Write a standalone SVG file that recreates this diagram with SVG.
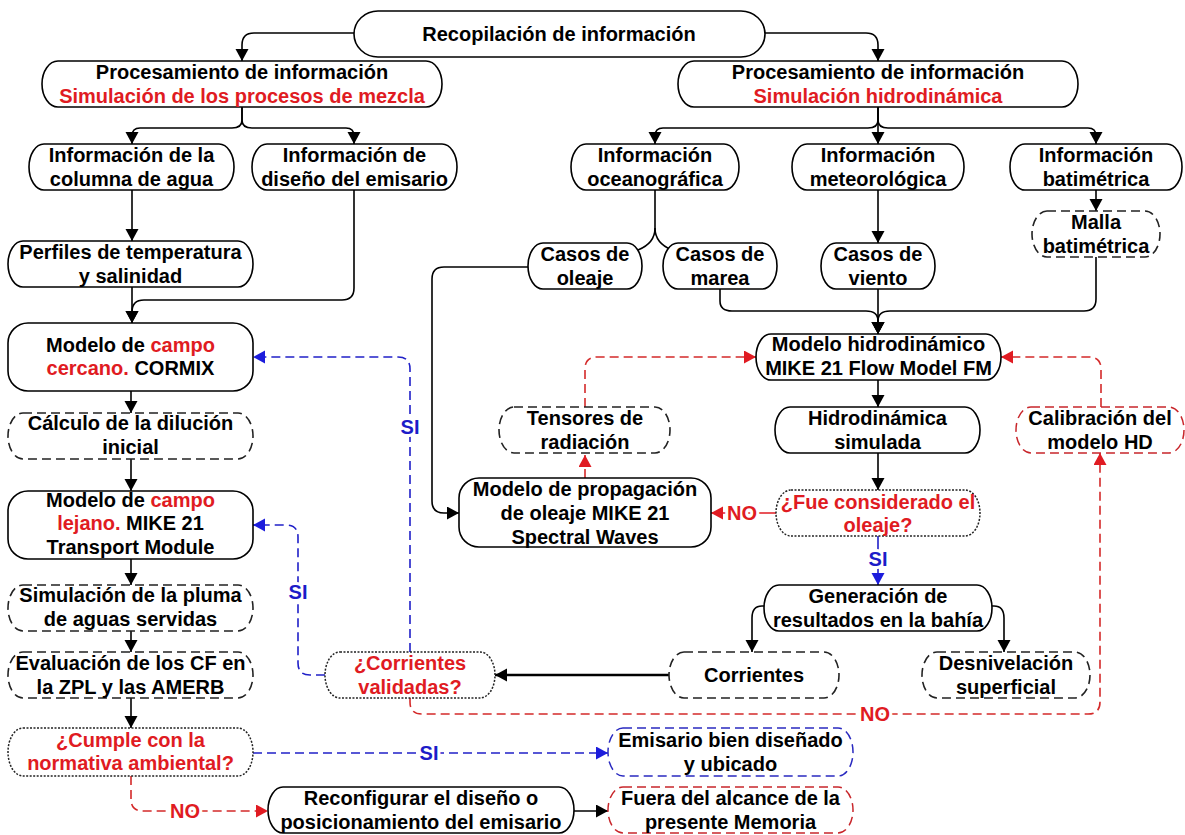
<svg xmlns="http://www.w3.org/2000/svg" width="1185" height="835" viewBox="0 0 1185 835">
<style>
.n{fill:#fff;stroke:#000;stroke-width:1.6}
.d{fill:#fff;stroke:#222;stroke-width:1.6;stroke-dasharray:9,5}
.o{fill:#fff;stroke:#222;stroke-width:1.5;stroke-dasharray:2,1.5}
.dr{fill:#fff;stroke:#c8262b;stroke-width:1.5;stroke-dasharray:9,5}
.db{fill:#fff;stroke:#2a2ac0;stroke-width:1.5;stroke-dasharray:9,5}
text{font-family:"Liberation Sans",Arial,sans-serif;font-weight:bold;font-size:20px;text-anchor:middle;fill:#000}
.r{fill:#e01b22}
.b{fill:#1c1cc8}
.lb{stroke:#fff;stroke-width:6;paint-order:stroke}
.c{fill:none;stroke:#000;stroke-width:1.6}
.cr{fill:none;stroke:#d42a2a;stroke-width:1.6;stroke-dasharray:9,5}
.cb{fill:none;stroke:#2020c8;stroke-width:1.6;stroke-dasharray:9,5}
</style>
<defs>
<marker id="ak" markerUnits="userSpaceOnUse" markerWidth="14" markerHeight="14" refX="12" refY="6.5" orient="auto"><path d="M0,0 L12,6.5 L0,13 Z" fill="#000"/></marker>
<marker id="ar" markerUnits="userSpaceOnUse" markerWidth="14" markerHeight="14" refX="12" refY="6.5" orient="auto"><path d="M0,0 L12,6.5 L0,13 Z" fill="#e01b22"/></marker>
<marker id="ab" markerUnits="userSpaceOnUse" markerWidth="14" markerHeight="14" refX="12" refY="6.5" orient="auto"><path d="M0,0 L12,6.5 L0,13 Z" fill="#1c1cdc"/></marker>
</defs>
<rect width="1185" height="835" fill="#fff"/>
<g id="connectors">
<path class="c" d="M354,33 H254 Q242,33 242,45 V61" marker-end="url(#ak)"/>
<path class="c" d="M765,33 H866 Q878,33 878,45 V61" marker-end="url(#ak)"/>
<path class="c" d="M242,107 V120 Q242,128 232,128 H140 Q132,128 132,136 V144" marker-end="url(#ak)"/>
<path class="c" d="M242,107 V120 Q242,128 252,128 H346 Q354,128 354,136 V144" marker-end="url(#ak)"/>
<path class="c" d="M132,190 V241" marker-end="url(#ak)"/>
<path class="c" d="M132,287 V323" marker-end="url(#ak)"/>
<path class="c" d="M354,190 V288 Q354,300 342,300 H144 Q132,300 132,312 V323" marker-end="url(#ak)"/>
<path class="c" d="M878,107 V120 Q878,128 868,128 H663 Q655,128 655,136 V144" marker-end="url(#ak)"/>
<path class="c" d="M878,107 V144" marker-end="url(#ak)"/>
<path class="c" d="M878,107 V120 Q878,128 888,128 H1088 Q1096,128 1096,136 V144" marker-end="url(#ak)"/>
<path class="c" d="M655,190 V228 C655,240 648,246 638,250"/>
<path class="c" d="M655,228 C655,240 662,246 672,250"/>
<path class="c" d="M878,190 V243" marker-end="url(#ak)"/>
<path class="c" d="M1096,190 V211" marker-end="url(#ak)"/>
<path class="c" d="M720,289 V301 Q720,311 732,311 H866 Q878,311 878,321 V334" marker-end="url(#ak)"/>
<path class="c" d="M878,289 V334" marker-end="url(#ak)"/>
<path class="c" d="M1096,257 V299 Q1096,311 1084,311 H890 Q878,311 878,321 V334" marker-end="url(#ak)"/>
<path class="c" d="M528,267 H444 Q432,267 432,279 V501 Q432,513 444,513 H459" marker-end="url(#ak)"/>
<path class="c" d="M878,380 V407" marker-end="url(#ak)"/>
<path class="c" d="M878,453 V490" marker-end="url(#ak)"/>
<path fill="none" stroke="#e01b22" stroke-width="1.6" d="M776,513 H711" marker-end="url(#ar)"/>
<path fill="none" stroke="#2020c8" stroke-width="1.6" d="M878,536 V585" marker-end="url(#ab)"/>
<path class="cr" d="M585,478 V455" marker-end="url(#ar)"/>
<path class="cr" d="M585,407 V369 Q585,357 597,357 H756" marker-end="url(#ar)"/>
<path class="cr" d="M1101,407 V369 Q1101,357 1089,357 H1001" marker-end="url(#ar)"/>
<path class="c" d="M766,606 H762 Q752,606 752,618 V652" marker-end="url(#ak)"/>
<path class="c" d="M990,606 H994 Q1004,606 1004,618 V652" marker-end="url(#ak)"/>
<path fill="none" stroke="#000" stroke-width="2.6" d="M669,675 H495" marker-end="url(#ak)"/>
<path class="cb" d="M410,652 V369 Q410,357 398,357 H253" marker-end="url(#ab)"/>
<path class="cb" d="M325,675 H310 Q298,675 298,663 V537 Q298,525 286,525 H253" marker-end="url(#ab)"/>
<path class="cr" d="M410,698 V702 Q410,714 422,714 H1088 Q1100,714 1100,702 V453" marker-end="url(#ar)"/>
<path class="c" d="M131,391 V413" marker-end="url(#ak)"/>
<path class="c" d="M131,459 V491" marker-end="url(#ak)"/>
<path class="c" d="M131,559 V585" marker-end="url(#ak)"/>
<path class="c" d="M131,631 V652" marker-end="url(#ak)"/>
<path class="c" d="M131,698 V728" marker-end="url(#ak)"/>
<path class="cb" d="M253,753 H608" marker-end="url(#ab)"/>
<path class="cr" d="M131,776 V799 Q131,811 143,811 H268" marker-end="url(#ar)"/>
<path class="c" d="M574,811 H608" marker-end="url(#ak)"/>
<text x="742" y="520" class="r lb">NO</text>
<text x="878" y="566" class="b lb">SI</text>
<text x="410" y="434" class="b lb">SI</text>
<text x="298" y="599" class="b lb">SI</text>
<text x="875" y="721" class="r lb">NO</text>
<text x="429" y="760" class="b lb">SI</text>
<text x="185" y="818" class="r lb">NO</text>
</g>
<g id="recop"><rect class="n" x="354" y="11" width="411" height="46" rx="24" ry="23"/><text x="559" y="41">Recopilación de información</text></g>
<g id="procL"><rect class="n" x="42" y="61" width="400" height="46" rx="16" ry="23"/><text x="242" y="79">Procesamiento de información</text><text x="242" y="103" class="r">Simulación de los procesos de mezcla</text></g>
<g id="procR"><rect class="n" x="678" y="61" width="400" height="46" rx="16" ry="23"/><text x="878" y="79">Procesamiento de información</text><text x="878" y="103" class="r">Simulación hidrodinámica</text></g>
<g id="infoCol"><rect class="n" x="29" y="144" width="205" height="46" rx="15" ry="23"/><text x="131.5" y="162">Información de la</text><text x="131.5" y="186">columna de agua</text></g>
<g id="infoDis"><rect class="n" x="252" y="144" width="205" height="46" rx="15" ry="23"/><text x="354.5" y="162">Información de</text><text x="354.5" y="186">diseño del emisario</text></g>
<g id="infoOce"><rect class="n" x="571" y="144" width="168" height="46" rx="15" ry="23"/><text x="655" y="162">Información</text><text x="655" y="186">oceanográfica</text></g>
<g id="infoMet"><rect class="n" x="792" y="144" width="172" height="46" rx="15" ry="23"/><text x="878" y="162">Información</text><text x="878" y="186">meteorológica</text></g>
<g id="infoBat"><rect class="n" x="1010" y="144" width="172" height="46" rx="15" ry="23"/><text x="1096" y="162">Información</text><text x="1096" y="186">batimétrica</text></g>
<g id="perfiles"><rect class="n" x="8" y="241" width="245" height="46" rx="15" ry="23"/><text x="130.5" y="259">Perfiles de temperatura</text><text x="130.5" y="283">y salinidad</text></g>
<g id="oleaje"><rect class="n" x="528" y="243" width="114" height="46" rx="15" ry="23"/><text x="585" y="261">Casos de</text><text x="585" y="285">oleaje</text></g>
<g id="marea"><rect class="n" x="663" y="243" width="114" height="46" rx="15" ry="23"/><text x="720" y="261">Casos de</text><text x="720" y="285">marea</text></g>
<g id="viento"><rect class="n" x="821" y="243" width="114" height="46" rx="15" ry="23"/><text x="878" y="261">Casos de</text><text x="878" y="285">viento</text></g>
<g id="malla"><rect class="d" x="1032" y="211" width="128" height="46" rx="15" ry="23"/><text x="1096" y="229">Malla</text><text x="1096" y="253">batimétrica</text></g>
<g id="cercano"><rect class="n" x="8" y="323" width="245" height="68" rx="20" ry="20"/><text x="130.5" y="352">Modelo de <tspan class="r">campo</tspan></text><text x="130.5" y="375"><tspan class="r">cercano.</tspan> CORMIX</text></g>
<g id="modHD"><rect class="n" x="756" y="334" width="245" height="46" rx="15" ry="23"/><text x="878.5" y="351">Modelo hidrodinámico</text><text x="878.5" y="375">MIKE 21 Flow Model FM</text></g>
<g id="tensores"><rect class="d" x="499" y="407" width="171" height="46" rx="15" ry="23"/><text x="585" y="425">Tensores de</text><text x="585" y="449">radiación</text></g>
<g id="hidSim"><rect class="n" x="775" y="407" width="205" height="46" rx="15" ry="23"/><text x="877.5" y="425">Hidrodinámica</text><text x="877.5" y="449">simulada</text></g>
<g id="calib"><rect class="dr" x="1016" y="407" width="168" height="46" rx="15" ry="23"/><text x="1100" y="425">Calibración del</text><text x="1100" y="449">modelo HD</text></g>
<g id="calculo"><rect class="d" x="8" y="413" width="245" height="46" rx="15" ry="23"/><text x="130.5" y="430">Cálculo de la dilución</text><text x="130.5" y="454">inicial</text></g>
<g id="lejano"><rect class="n" x="8" y="491" width="245" height="68" rx="20" ry="20"/><text x="130.5" y="507">Modelo de <tspan class="r">campo</tspan></text><text x="130.5" y="530"><tspan class="r">lejano.</tspan> MIKE 21</text><text x="130.5" y="554">Transport Module</text></g>
<g id="modProp"><rect class="n" x="459" y="478" width="252" height="69" rx="20" ry="20"/><text x="585" y="496">Modelo de propagación</text><text x="585" y="520">de oleaje MIKE 21</text><text x="585" y="544">Spectral Waves</text></g>
<g id="fue"><rect class="o" x="776" y="490" width="204" height="46" rx="15" ry="23"/><text x="878" y="509" class="r">¿Fue considerado el</text><text x="878" y="532" class="r">oleaje?</text></g>
<g id="pluma"><rect class="d" x="8" y="585" width="245" height="46" rx="15" ry="23"/><text x="130.5" y="602">Simulación de la pluma</text><text x="130.5" y="626">de aguas servidas</text></g>
<g id="gener"><rect class="n" x="764" y="585" width="228" height="46" rx="15" ry="23"/><text x="878" y="603">Generación de</text><text x="878" y="627">resultados en la bahía</text></g>
<g id="eval"><rect class="d" x="8" y="652" width="245" height="46" rx="15" ry="23"/><text x="130.5" y="670">Evaluación de los CF en</text><text x="130.5" y="694">la ZPL y las AMERB</text></g>
<g id="corrVal"><rect class="o" x="325" y="652" width="170" height="46" rx="15" ry="23"/><text x="410" y="670" class="r">¿Corrientes</text><text x="410" y="694" class="r">validadas?</text></g>
<g id="corrientes"><rect class="d" x="669" y="652" width="170" height="46" rx="15" ry="23"/><text x="754" y="682">Corrientes</text></g>
<g id="desniv"><rect class="d" x="922" y="652" width="168" height="46" rx="15" ry="23"/><text x="1006" y="670">Desnivelación</text><text x="1006" y="694">superficial</text></g>
<g id="cumple"><rect class="o" x="8" y="728" width="245" height="48" rx="15" ry="24"/><text x="130.5" y="747" class="r">¿Cumple con la</text><text x="130.5" y="770" class="r">normativa ambiental?</text></g>
<g id="emisario"><rect class="db" x="608" y="728" width="245" height="48" rx="15" ry="24"/><text x="730.5" y="747">Emisario bien diseñado</text><text x="730.5" y="771">y ubicado</text></g>
<g id="reconf"><rect class="n" x="268" y="787" width="306" height="46" rx="15" ry="23"/><text x="421" y="805">Reconfigurar el diseño o</text><text x="421" y="829">posicionamiento del emisario</text></g>
<g id="fuera"><rect class="dr" x="608" y="787" width="245" height="46" rx="15" ry="23"/><text x="730.5" y="805">Fuera del alcance de la</text><text x="730.5" y="829">presente Memoria</text></g>
</svg>
